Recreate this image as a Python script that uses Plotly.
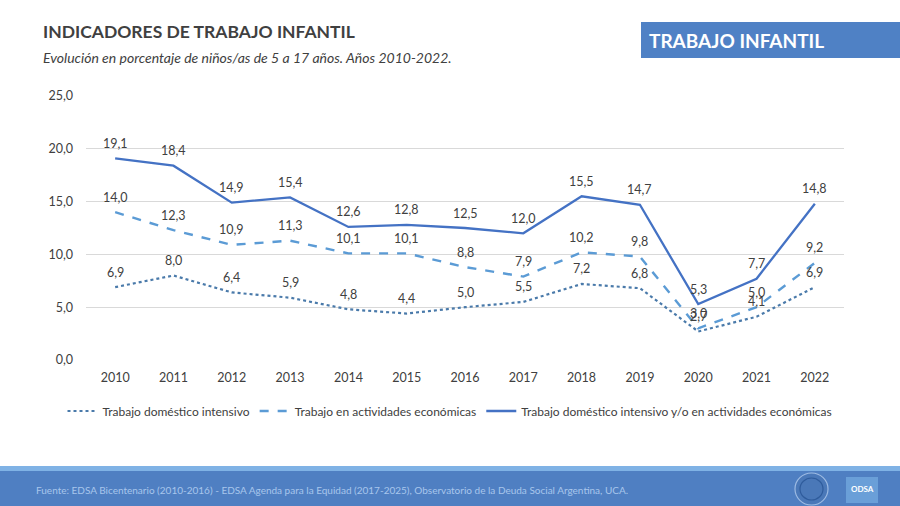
import plotly.graph_objects as go

years = [str(y) for y in range(2010, 2023)]
domestico = [6.9, 8.0, 6.4, 5.9, 4.8, 4.4, 5.0, 5.5, 7.2, 6.8, 2.7, 4.1, 6.9]
economicas = [14.0, 12.3, 10.9, 11.3, 10.1, 10.1, 8.8, 7.9, 10.2, 9.8, 3.0, 5.0, 9.2]
total = [19.1, 18.4, 14.9, 15.4, 12.6, 12.8, 12.5, 12.0, 15.5, 14.7, 5.3, 7.7, 14.8]
y_ticks = [0, 5, 10, 15, 20, 25]

W, H = 900, 506
FONT = "Lato"
TXT = "#404040"

def fmt(v):
    return f"{v:.1f}".replace(".", ",")

def py(p):
    return 1 - p / H

def px(p):
    return p / W

fig = go.Figure()
series = [
    ("Trabajo doméstico intensivo", domestico, "#4a7aaa", "dot", 2.2),
    ("Trabajo en actividades económicas", economicas, "#5b9bd5", "dash", 2.4),
    ("Trabajo doméstico intensivo y/o en actividades económicas", total, "#4472c4", "solid", 2.3),
]
annotations = []
for name, vals, color, dash, w in series:
    fig.add_trace(go.Scatter(
        x=years, y=vals, name=name, mode="lines",
        line=dict(color=color, dash=dash, width=w),
        hoverinfo="skip",
    ))
    for i, v in enumerate(vals):
        annotations.append(dict(
            x=i, y=v, xref="x", yref="y", text=fmt(v), showarrow=False,
            yshift=15, xanchor="center", yanchor="middle",
            font=dict(family=FONT, size=12.5, color=TXT),
        ))

shapes = [
    dict(type="rect", xref="paper", yref="paper", x0=px(641), x1=1.0, y0=py(58), y1=py(22),
         fillcolor="#4f81c5", line=dict(width=0), layer="below"),
    dict(type="rect", xref="paper", yref="paper", x0=0, x1=1, y0=py(471), y1=py(466),
         fillcolor="#7fb2e5", line=dict(width=0), layer="below"),
    dict(type="rect", xref="paper", yref="paper", x0=0, x1=1, y0=0, y1=py(471),
         fillcolor="#4f7fc2", line=dict(width=0), layer="below"),
    dict(type="circle", xref="paper", yref="paper", x0=px(795), x1=px(828), y0=py(505), y1=py(473),
         fillcolor="#4a78b8", line=dict(color="#9dbbe3", width=1.2), layer="above"),
    dict(type="circle", xref="paper", yref="paper", x0=px(800), x1=px(823), y0=py(500), y1=py(478),
         fillcolor="rgba(0,0,0,0)", line=dict(color="#2f5c9c", width=1.2), layer="above"),
    dict(type="rect", xref="paper", yref="paper", x0=px(846), x1=px(878), y0=py(503), y1=py(477),
         fillcolor="#6a9fd8", line=dict(width=0), layer="above"),
]

annotations += [
    dict(text="<b>INDICADORES DE TRABAJO INFANTIL</b>", x=px(41), y=py(32), xref="paper", yref="paper",
         xanchor="left", yanchor="middle", showarrow=False,
         font=dict(family=FONT, size=17.5, color=TXT)),
    dict(text="<i>Evolución en porcentaje de niños/as de 5 a 17 años. Años 2010-2022.</i>",
         x=px(41), y=py(57), xref="paper", yref="paper", xanchor="left", yanchor="middle",
         showarrow=False, font=dict(family=FONT, size=14, color=TXT)),
    dict(text="<b>TRABAJO INFANTIL</b>", x=px(647), y=py(41), xref="paper", yref="paper",
         xanchor="left", yanchor="middle", showarrow=False,
         font=dict(family=FONT, size=19, color="white")),
    dict(text="Fuente: EDSA Bicentenario (2010-2016) - EDSA Agenda para la Equidad (2017-2025), Observatorio de la Deuda Social Argentina, UCA.",
         x=px(34), y=py(490), xref="paper", yref="paper", xanchor="left", yanchor="middle",
         showarrow=False, font=dict(family=FONT, size=10, color="#a8c6ec")),
    dict(text="<b>ODSA</b>", x=px(862), y=py(489), xref="paper", yref="paper", xanchor="center",
         yanchor="middle", showarrow=False, font=dict(family=FONT, size=8, color="white")),
]

fig.update_layout(
    width=W, height=H, autosize=False,
    margin=dict(l=0, r=0, t=0, b=0, pad=0, autoexpand=False),
    paper_bgcolor="white", plot_bgcolor="white",
    separators=",.",
    showlegend=True,
    hovermode=False,
    legend=dict(orientation="h", x=0.5, xanchor="center", y=py(411), yanchor="middle",
                font=dict(family=FONT, size=12, color=TXT), itemwidth=30,
                bgcolor="rgba(0,0,0,0)"),
    xaxis=dict(domain=[px(86), px(844)], type="category", range=[-0.5, 12.5], showgrid=False,
               showline=False, automargin=False, ticklabelstandoff=8,
               ticks="", tickfont=dict(family=FONT, size=12.5, color=TXT), zeroline=False),
    yaxis=dict(domain=[py(360), py(96)], range=[0, 25], tickvals=y_ticks, tickformat=".1f",
               showgrid=True, gridcolor="#d9d9d9", gridwidth=1, zeroline=False, showline=False,
               automargin=False,
               ticks="", ticklabelstandoff=12, tickfont=dict(family=FONT, size=12.5, color=TXT)),
    shapes=shapes, annotations=annotations,
)

fig.write_html("out.html", config={"displayModeBar": False},
               post_script="document.body.style.margin='0';document.body.style.overflow='hidden';")
